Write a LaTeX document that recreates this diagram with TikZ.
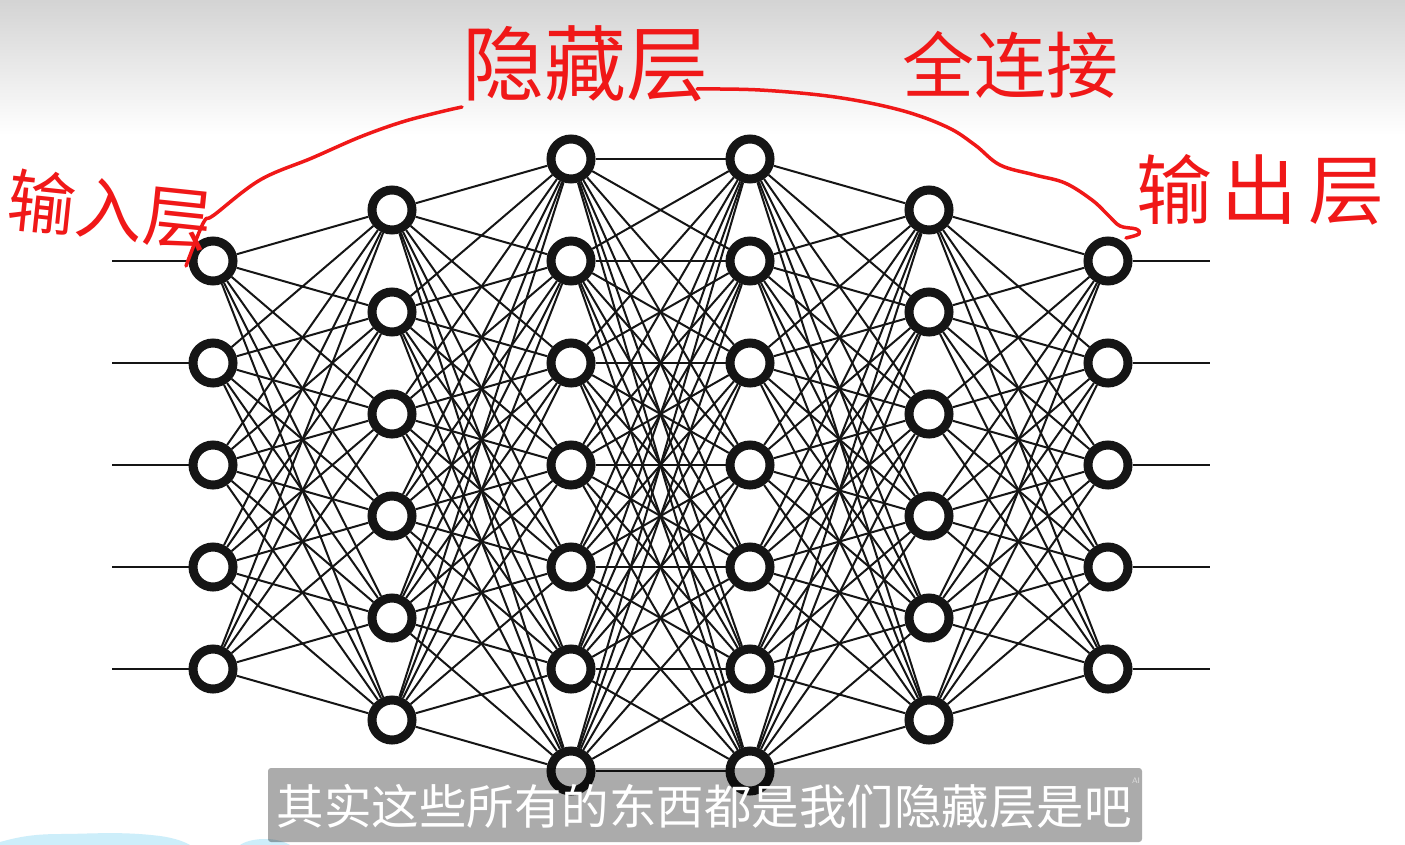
\documentclass[tikz,border=0pt]{standalone}
\usepackage{fontspec}
\newfontfamily\cjk{Noto Sans CJK SC}
\usetikzlibrary{backgrounds}
\definecolor{ink}{HTML}{151515}
\definecolor{pen}{HTML}{F01818}
\definecolor{blob}{HTML}{CDEEFA}
\tikzset{
  neuron/.style={circle, draw=ink, line width=9pt, fill=white, minimum size=40pt, inner sep=0pt},
  edge/.style={draw=ink, line width=2pt},
  redline/.style={draw=pen, line width=3.5pt, line cap=round, line join=round},
  hand/.style={text=pen, inner sep=0pt},
  subbar/.style={fill=black, fill opacity=0.33, rounded corners=3pt},
  subtext/.style={text=white, font=\cjk\fontsize{47.5}{47.5}\selectfont, inner sep=0pt}
}
\begin{document}
\begin{tikzpicture}[x=1pt,y=-1pt]
\useasboundingbox (0,0) rectangle (1405,845);
% neurons
\foreach \n [count=\L] in {5,6,7,7,6,5} {
  \foreach \i in {1,...,\n} {
    \node[neuron] (n\L-\i) at ({213+(\L-1)*179},{465+(\i-(\n+1)/2)*102}) {};
  }
}
\foreach \i in {1,...,5} {
  \coordinate (in\i) at (112,{465+(\i-3)*102});
  \coordinate (out\i) at (1210,{465+(\i-3)*102});
}
\begin{scope}[on background layer]
  \fill[white] (0,0) rectangle (1405,845);
  \shade[top color=black!17, bottom color=white] (0,0) rectangle (1405,135);
  \fill[blob] (0,845) -- (0,842) .. controls (15,838) and (30,834) .. (60,834)
     .. controls (90,834) and (120,831) .. (160,836) .. controls (175,838) and (185,842) .. (190,845) -- cycle;
  \fill[blob] (240,845) .. controls (250,838) and (275,836) .. (290,845) -- cycle;
  \foreach \a/\b [count=\L] in {5/6,6/7,7/7,7/6,6/5} {
    \pgfmathtruncatemacro\M{\L+1}
    \foreach \i in {1,...,\a} {
      \foreach \j in {1,...,\b} {
        \draw[edge] (n\L-\i) -- (n\M-\j);
      }
    }
  }
  \foreach \i in {1,...,5} {
    \draw[edge] (in\i) -- (n1-\i);
    \draw[edge] (n6-\i) -- (out\i);
  }
\end{scope}
% handwritten annotations
\node[hand, font=\cjk\fontsize{68}{68}\selectfont, rotate=-6] (tin) at (110,210) {输入层};
\node[hand, font=\cjk\fontsize{82}{82}\selectfont] (thid) at (585,64) {隐藏层};
\node[hand, font=\cjk\fontsize{72}{72}\selectfont] (tfc) at (1010,65) {全连接};
\node[hand, font=\cjk\fontsize{76}{76}\selectfont] (tout) at (1260,190) {输\hspace{10pt}出\hspace{10pt}层};
\draw[redline] plot[smooth, tension=0.6] coordinates {(186,266) (196,240) (205,220) (214,215) (260,180) (312,158) (360,137) (402,122) (440,112) (462,107)};
\draw[redline] plot[smooth, tension=0.6] coordinates {(697,89) (760,90) (835,97) (900,110) (947,127) (975,145) (1000,165) (1035,175) (1065,183) (1092,200) (1108,215) (1120,226) (1136,229) (1139,234) (1126,238)};
% subtitle
\path[subbar] (268,768) rectangle (1142,842);
\node[subtext] (sub) at (704,806) {其实这些所有的东西都是我们隐藏层是吧};
\node[text=white, text opacity=0.6, font=\sffamily\fontsize{8}{8}\selectfont, inner sep=0pt] (ai) at (1136,781) {AI};
\end{tikzpicture}
\end{document}
